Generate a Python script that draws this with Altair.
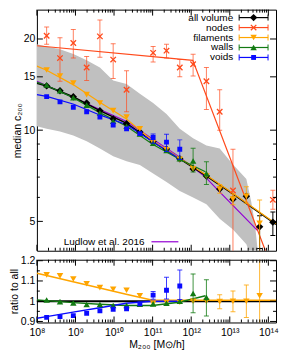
import altair as alt
import pandas as pd

N = None
# halo mass bins [Msun/h]
mass = [1.79e8, 3.97e8, 8.79e8, 1.95e9, 4.3e9, 9.5e9, 2.11e10, 4.67e10, 1.03e11,
        2.29e11, 5.06e11, 1.12e12, 2.48e12, 5.48e12, 1.21e13, 2.69e13, 5.94e13, 1.31e14]

# median concentration per environment
all_c = [14.0, 13.5, 12.9, 12.3, 11.6, 10.9, 10.5, 9.87, 9.18, 8.66, 8.05, 7.45, 7.06, 6.39, 5.92, 6.05, 4.80, 4.97]
all_lo = [N] * 16 + [4.07, 4.49]
all_hi = [N] * 16 + [5.22, 5.37]
nodes_c = [20.5, 17.3, 19.4, 16.1, 20.4, 17.1, 13.6, N, 18.0, 18.3, 16.1, 16.5, 14.5, 11.5, 6.32, N, N, 5.89]
nodes_hi = [21.9, 20.2, 21.5, 17.5, 23.1, 19.3, 15.7, N, 18.9, 19.2, 17.1, 17.8, 16.1, 13.6, 8.65, N, N, 6.33]
nodes_lo = [19.2, 14.5, 17.3, 14.6, 17.4, 14.8, 11.5, N, 16.8, 17.3, 15.0, 15.1, 11.7, 10.0, 3.0, N, N, 5.48]
fil_c = [15.8, 15.1, 14.3, 13.1, 12.3, 11.6, 11.05, 10.1, 9.1, 8.62, 8.01, 7.45, 7.06, 6.39, 5.92, 6.05, 4.93]
fil_hi = [N] * 13 + [6.62, 6.16, 6.50, 5.88]
fil_lo = [N] * 13 + [6.19, 5.67, 5.74, 3.0]
wal_c = [14.1, 13.5, 12.8, 12.1, 11.4, 10.7, 10.3, 9.72, 9.06, 8.57, 8.05, 7.91, 7.19]
wal_hi = [N] * 11 + [8.71, 7.86]
wal_lo = [N] * 11 + [7.28, 6.62]
voi_c = [12.9, 12.4, 11.9, 11.5, 11.05, 10.4, 10.1, 9.74, 9.46, 9.13, 8.65]
voi_hi = [N] * 8 + [9.72, 9.70, 9.29]
voi_lo = [N] * 8 + [9.05, 8.50, 8.01]

# ratio to all volume
fil_r = [1.130, 1.125, 1.110, 1.086, 1.067, 1.059, 1.054, 1.027, 0.99, 0.995, 0.995, 1.0, 1.0, 0.998, 1.0, 1.0, 1.027]
fil_r_hi = [N] * 13 + [1.032, 1.051, 1.08, 1.23]
fil_r_lo = [N] * 13 + [0.963, 0.948, 0.92, 0.85]
wal_r = [1.006, 0.998, 0.992, 0.984, 0.984, 0.979, 0.979, 0.985, 0.987, 0.99, 1.0, 1.038, 1.019]
wal_r_hi = [N] * 11 + [1.135, 1.106]
wal_r_lo = [N] * 11 + [0.943, 0.927]
voi_r = [0.920, 0.924, 0.929, 0.940, 0.952, 0.960, 0.963, 0.987, 1.03, 1.054, 1.075]
voi_r_hi = [N] * 8 + [1.048, 1.118, 1.154]
voi_r_lo = [N] * 8 + [1.01, 1.011, 1.008]

# fitted relations
fit_m = [1e8, 1.79e8, 8.67e8, 4.27e9, 2.06e10, 1e11, 4.85e11, 2.34e12, 1.15e13, 1.58e14]
fit_all = [14.3, 14.0, 12.9, 11.6, 10.55, 9.18, 8.07, 7.10, 6.19, 4.89]
fit_fil_r = [1.138, 1.127, 1.096, 1.065, 1.034, 1.005, 1.005, 1.005, 1.005, 1.005]
fit_wal_r = [1.006, 1.003, 0.993, 0.985, 0.979, 0.979, 0.995, 1.027, N, N]
fit_voi_r = [0.916, 0.924, 0.946, 0.968, 0.990, 1.0, 1.0, N, N, N]
nodes_fit_m = [1e8, 1.1e12, 8.4e13]
nodes_fit_c = [19.0, 17.0, 4.0]
lud_m = [1e8, 2.06e10, 4.85e11, 2.34e12, 5.0e12, 5.35e13]
lud_c = [14.5, 10.7, 8.18, 7.0, 6.33, 4.65]

# scatter band of all volume
band_m = [1e8, 1.79e8, 3.97e8, 8.79e8, 1.95e9, 4.3e9, 9.5e9, 2.11e10, 4.67e10, 1.03e11, 2.29e11,
          5.06e11, 1.12e12, 2.48e12, 5.48e12, 1.21e13, 2.69e13, 3.6e13, 4.5e13, 5.4e13]
band_hi = [19.2, 18.9, 18.5, 17.85, 17.0, 16.1, 14.6, 14.2, 13.2, 12.3, 11.3,
           10.1, 9.4, 8.9, 8.7, 7.7, 6.9, 5.8, 4.9, 3.9]
band_lo = [10.3, 10.1, 9.9, 9.6, 9.2, 8.7, 8.2, 7.9, 7.67, 7.2, 6.75,
           6.3, 6.0, 5.7, 5.1, 4.7, 4.2, 3.8, 3.5, 3.5]

x_major = [1e8, 1e9, 1e10, 1e11, 1e12, 1e13, 1e14]
x_minor = [k * 10 ** e for e in range(8, 14) for k in range(2, 10)]
ym_major = [5, 10, 15, 20]
ym_minor = [6, 7, 8, 9]
yr_major = [0.9, 1.0, 1.1, 1.2]
yr_minor = [0.95, 1.05, 1.15]

leg_labels = ["all volume", "nodes", "filaments", "walls", "voids"]
lud_label = ["Ludlow et al. 2016"]

FONT = "Liberation Sans"
BLACK, NODE, FIL, WAL, VOI, LUD = "#000000", "#ff4a1c", "#ffa500", "#127a12", "#0a0aff", "#9400d3"
XSHAPE = "M-1,-1L1,1M-1,1L1,-1"
W, H1, H2 = 240, 242, 63

xscale = alt.Scale(type="log", domain=[1e8, 1.58e14], nice=False)
ysc_m = alt.Scale(type="log", domain=[4, 25], nice=False)
ysc_r = alt.Scale(domain=[0.895, 1.205], nice=False, zero=False)

ax_ym = alt.Axis(title="median c₂₀₀", values=ym_major, format="d", ticks=False, domain=False,
                 grid=False, labelPadding=2, titlePadding=1, labelFlush=False, labelOverlap=False)
ax_yr = alt.Axis(title="ratio to all", values=yr_major,
                 labelExpr="datum.value == 1 ? '1' : format(datum.value, '.1f')",
                 ticks=False, domain=False, grid=False, labelPadding=2, titlePadding=1,
                 labelFlush=False, labelOverlap=False)
ax_xr = alt.Axis(title="M₂₀₀ [M⊙/h]", values=x_major,
                 labelExpr="['10⁸','10⁹','10¹⁰','10¹¹','10¹²','10¹³','10¹⁴'][round(log(datum.value)/LN10) - 8]",
                 ticks=False, domain=False, grid=False, labelPadding=5, titlePadding=2,
                 labelFlush=False, labelOverlap=False)


def xm(f="m"):
    return alt.X(f, type="quantitative", scale=xscale, axis=None)


def xr(f="m"):
    return alt.X(f, type="quantitative", scale=xscale, axis=ax_xr)


def ym(f):
    return alt.Y(f, type="quantitative", scale=ysc_m, axis=ax_ym)


def yr(f):
    return alt.Y(f, type="quantitative", scale=ysc_r, axis=ax_yr)


def frame(ms, cs, los=None, his=None):
    n = len(cs)
    return pd.DataFrame({
        "m": ms[:n],
        "c": pd.Series(cs, dtype=float),
        "lo": pd.Series(los if los else [N] * n, dtype=float),
        "hi": pd.Series(his if his else [N] * n, dtype=float),
    })


def series(cs, los, his, color, shape, size, filled, X, Y, err_op=0.8):
    df = frame(mass, cs, los, his)
    pts = df.dropna(subset=["c"])
    err = df.dropna(subset=["lo", "hi"])
    out = []
    if len(err):
        out.append(alt.Chart(err).mark_rule(color=color, strokeWidth=1, opacity=err_op, clip=True)
                   .encode(x=X(), y=Y("lo"), y2="hi"))
        for f in ["lo", "hi"]:
            out.append(alt.Chart(err).mark_tick(orient="horizontal", color=color, size=5, thickness=1,
                                                opacity=err_op, clip=True)
                       .encode(x=X(), y=Y(f)))
    if filled:
        mk = alt.Chart(pts).mark_point(shape=shape, size=size, filled=True, color=color, opacity=1,
                                       strokeWidth=0.5, clip=True)
    else:
        mk = alt.Chart(pts).mark_point(shape=shape, size=size, filled=False, color=color, opacity=1,
                                       strokeWidth=1.3, clip=True)
    out.append(mk.encode(x=X(), y=Y("c")))
    return out


def line(ms, cs, color, X, Y, sw=1.2):
    df = frame(ms, cs).dropna(subset=["c"])
    return alt.Chart(df).mark_line(color=color, strokeWidth=sw, clip=True).encode(x=X(), y=Y("c"))


def ticks(X, Y, h, xmaj, xmin, ymaj, ymin):
    out = []
    for vals, ln in [(xmaj, 6), (xmin, 3)]:
        d = pd.DataFrame({"m": vals})
        out.append(alt.Chart(d).mark_rule(color="black", strokeWidth=1)
                   .encode(x=X(), y=alt.value(h), y2=alt.value(h - ln)))
        out.append(alt.Chart(d).mark_rule(color="black", strokeWidth=1)
                   .encode(x=X(), y=alt.value(0), y2=alt.value(ln)))
    for vals, ln in [(ymaj, 6), (ymin, 3)]:
        d = pd.DataFrame({"c": vals})
        out.append(alt.Chart(d).mark_rule(color="black", strokeWidth=1)
                   .encode(y=Y("c"), x=alt.value(0), x2=alt.value(ln)))
        out.append(alt.Chart(d).mark_rule(color="black", strokeWidth=1)
                   .encode(y=Y("c"), x=alt.value(W), x2=alt.value(W - ln)))
    return out


# ---------- main panel ----------
band = pd.DataFrame({"m": band_m, "hi": band_hi, "lo": band_lo})
main_layers = [alt.Chart(band).mark_area(color="#c0c0c0", opacity=1, clip=True)
               .encode(x=xm(), y=ym("hi"), y2="lo")]
main_layers.append(line(lud_m, lud_c, LUD, xm, ym))
main_layers.append(line(fit_m, fit_all, BLACK, xm, ym, sw=1.6))
main_layers.append(line(fit_m, [a * r for a, r in zip(fit_all, fit_fil_r)], FIL, xm, ym))
main_layers.append(line(fit_m, [a * r if r else N for a, r in zip(fit_all, fit_wal_r)], WAL, xm, ym))
main_layers.append(line(fit_m, [a * r if r else N for a, r in zip(fit_all, fit_voi_r)], VOI, xm, ym))
main_layers.append(line(nodes_fit_m, nodes_fit_c, NODE, xm, ym))
main_layers += series(all_c, all_lo, all_hi, BLACK, "diamond", 55, True, xm, ym, err_op=1)
main_layers += series(nodes_c, nodes_lo, nodes_hi, NODE, XSHAPE, 30, False, xm, ym, err_op=0.7)
main_layers += series(fil_c, fil_lo, fil_hi, FIL, "triangle-down", 42, True, xm, ym)
main_layers += series(wal_c, wal_lo, wal_hi, WAL, "triangle-up", 42, True, xm, ym)
main_layers += series(voi_c, voi_lo, voi_hi, VOI, "square", 24, True, xm, ym)
main_layers += ticks(xm, ym, H1, x_major, x_minor, ym_major, ym_minor)

# legend (top right)
shapes = ["diamond", XSHAPE, "triangle-down", "triangle-up", "square"]
colors = [BLACK, NODE, FIL, WAL, VOI]
msizes = [55, 30, 42, 42, 24]
LT, L0, L1, LY, LDY = 197, 203, 232, 8, 10
for i, lab in enumerate(leg_labels):
    yy = LY + i * LDY
    d = pd.DataFrame({"t": [lab]})
    main_layers.append(alt.Chart(d).mark_text(align="right", baseline="middle", fontSize=10,
                                              color="black")
                       .encode(x=alt.value(LT), y=alt.value(yy), text="t:N"))
    main_layers.append(alt.Chart(d).mark_rule(color=colors[i], strokeWidth=1.2)
                       .encode(x=alt.value(L0), x2=alt.value(L1), y=alt.value(yy)))
    for xx in (L0, L1):
        main_layers.append(alt.Chart(d).mark_rule(color=colors[i], strokeWidth=1)
                           .encode(x=alt.value(xx), y=alt.value(yy - 3), y2=alt.value(yy + 3)))
    main_layers.append(alt.Chart(d).mark_point(shape=shapes[i], size=msizes[i], filled=(i != 1),
                                               color=colors[i], opacity=1,
                                               strokeWidth=1.3 if i == 1 else 0.5)
                       .encode(x=alt.value((L0 + L1) / 2), y=alt.value(yy)))
dl = pd.DataFrame({"t": lud_label})
main_layers.append(alt.Chart(dl).mark_text(align="right", baseline="middle", fontSize=10, color="black")
                   .encode(x=alt.value(108), y=alt.value(H1 - 9), text="t:N"))
main_layers.append(alt.Chart(dl).mark_rule(color=LUD, strokeWidth=1.2)
                   .encode(x=alt.value(115), x2=alt.value(142), y=alt.value(H1 - 9)))

main = alt.layer(*main_layers).properties(width=W, height=H1)

# ---------- ratio panel ----------
ratio_layers = [alt.Chart(pd.DataFrame({"c": [1.0]})).mark_rule(color="black", strokeWidth=2)
                .encode(y=yr("c"))]
ratio_layers.append(line(fit_m, fit_fil_r, FIL, xr, yr, sw=1.6))
ratio_layers.append(line(fit_m, fit_wal_r, WAL, xr, yr, sw=1.4))
ratio_layers.append(line(fit_m, fit_voi_r, VOI, xr, yr, sw=1.4))
ratio_layers += series(fil_r, fil_r_lo, fil_r_hi, FIL, "triangle-down", 42, True, xr, yr)
ratio_layers += series(wal_r, wal_r_lo, wal_r_hi, WAL, "triangle-up", 42, True, xr, yr)
ratio_layers += series(voi_r, voi_r_lo, voi_r_hi, VOI, "square", 24, True, xr, yr)
ratio_layers += ticks(xr, yr, H2, x_major, x_minor, yr_major, yr_minor)

ratio = alt.layer(*ratio_layers).properties(width=W, height=H2)

chart = (
    alt.vconcat(main, ratio, spacing=3)
    .properties(padding=0)
    .configure_view(stroke="black", strokeWidth=1)
    .configure_axis(labelFont=FONT, titleFont=FONT, labelFontSize=10.5, titleFontSize=10.5,
                    titleFontWeight="normal", labelColor="black", titleColor="black")
    .configure_text(font=FONT)
)

chart.save("out.html", embed_options={"renderer": "svg", "actions": False})
